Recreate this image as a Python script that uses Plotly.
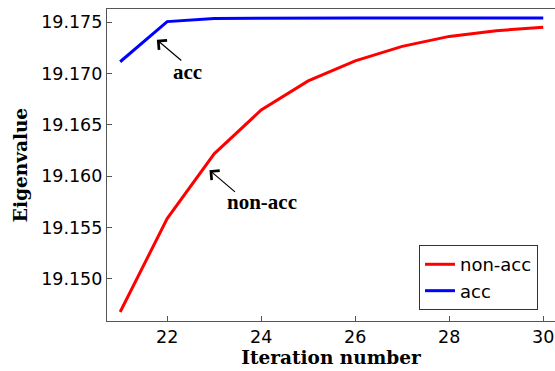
import plotly.graph_objects as go

iterations = [21, 22, 23, 24, 25, 26, 27, 28, 29, 30]
non_acc = [19.14678, 19.15588, 19.16219, 19.16646, 19.16929, 19.17124, 19.17266, 19.17363, 19.17419, 19.17451]
acc = [19.17116, 19.17507, 19.17538, 19.17541, 19.17542, 19.17542, 19.17542, 19.17542, 19.17542, 19.17542]
x_ticks = [22, 24, 26, 28, 30]
y_ticks = [19.150, 19.155, 19.160, 19.165, 19.170, 19.175]

fig = go.Figure()
fig.add_trace(go.Scatter(x=iterations, y=non_acc, mode="lines", name="non-acc",
                         line=dict(color="#ff0000", width=3)))
fig.add_trace(go.Scatter(x=iterations, y=acc, mode="lines", name="acc",
                         line=dict(color="#0000ff", width=3)))

ann_font = dict(family="Liberation Serif", size=21, color="black")
fig.add_annotation(x=21.78, y=19.1733, ax=26, ay=22, xref="x", yref="y",
                   text="", showarrow=True, arrowhead=4, arrowsize=2, arrowwidth=1.2, arrowcolor="black")
fig.add_annotation(x=22.44, y=19.1702, text="<b>acc</b>", showarrow=False, font=ann_font)
fig.add_annotation(x=22.9, y=19.1606, ax=27, ay=23, xref="x", yref="y",
                   text="", showarrow=True, arrowhead=4, arrowsize=2, arrowwidth=1.2, arrowcolor="black")
fig.add_annotation(x=24.01, y=19.1575, text="<b>non-acc</b>", showarrow=False, font=ann_font)

fig.update_layout(
    width=555, height=371,
    margin=dict(l=107, r=0, t=9, b=50),
    plot_bgcolor="white", paper_bgcolor="white",
    showlegend=True,
    legend=dict(x=0.962, y=0.035, xanchor="right", yanchor="bottom",
                bordercolor="#333", borderwidth=1, bgcolor="white",
                font=dict(family="DejaVu Sans", size=18, color="black"),
                tracegroupgap=0, itemwidth=30),
    xaxis=dict(range=[20.72, 30.25], tickvals=x_ticks, ticktext=[str(v) for v in x_ticks],
               showgrid=False, zeroline=False, showline=True, linecolor="#555", linewidth=1.2,
               mirror=True, ticks="inside", ticklen=5, tickcolor="#555",
               tickfont=dict(family="DejaVu Sans", size=17.5, color="black"),
               title=dict(text="<b>Iteration number</b>", standoff=2,
                          font=dict(family="DejaVu Serif", size=18.5, color="black"))),
    yaxis=dict(range=[19.1459, 19.1763], tickvals=y_ticks, ticktext=["%.3f" % v for v in y_ticks],
               showgrid=False, zeroline=False, showline=True, linecolor="#555", linewidth=1.2,
               ticks="inside", ticklen=5, tickcolor="#555",
               tickfont=dict(family="DejaVu Sans", size=17.5, color="black"),
               title=dict(text="<b>Eigenvalue</b>", standoff=8,
                          font=dict(family="DejaVu Serif", size=18.5, color="black"))),
)

fig.write_html("out.html")
